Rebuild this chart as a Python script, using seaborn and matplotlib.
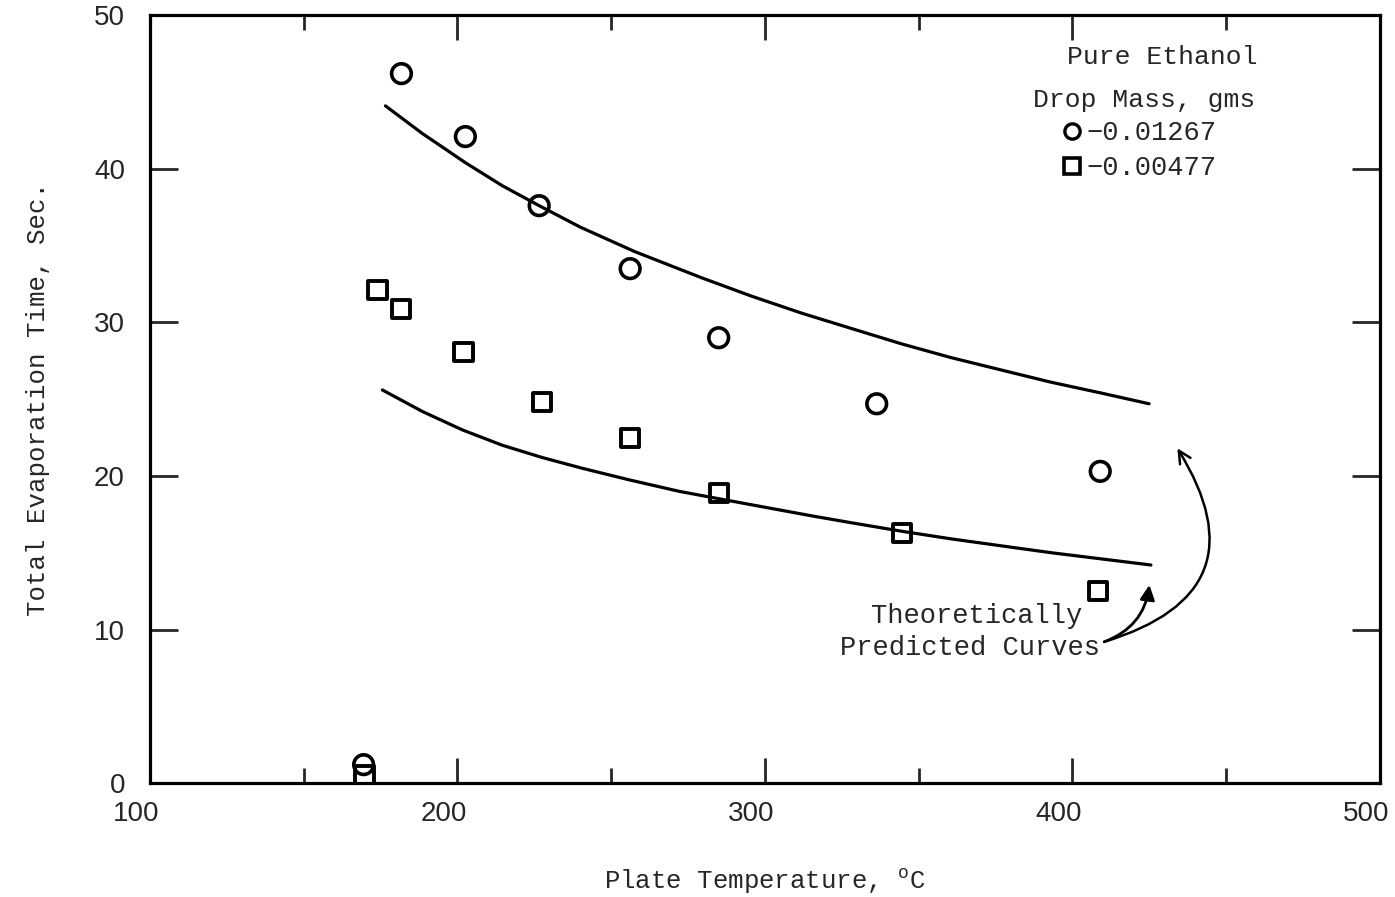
import matplotlib
matplotlib.use("Agg")
import matplotlib.pyplot as plt
import matplotlib.transforms as mtransforms
from matplotlib.lines import Line2D
from matplotlib.ticker import MultipleLocator
import seaborn as sns
import pandas as pd

# Measured points, drop mass 0.01267 g (circles)
temp_big = [169.5, 181.8, 202.6, 226.6, 256.2, 285.0, 336.4, 409.1]
time_big = [1.2, 46.2, 42.1, 37.6, 33.5, 29.0, 24.7, 20.3]

# Measured points, drop mass 0.00477 g (squares)
temp_small = [169.8, 174.0, 181.8, 202.0, 227.6, 256.2, 285.0, 344.5, 408.4]
time_small = [0.5, 32.1, 30.9, 28.1, 24.8, 22.5, 18.9, 16.3, 12.5]

# Theoretically predicted curves
curve_big_x = [176.6, 188.6, 202.6, 214.6, 226.6, 240.0, 257.8, 279.5, 295.8,
               312.0, 328.2, 344.5, 360.7, 376.9, 393.2, 409.4, 425.0]
curve_big_y = [44.1, 42.3, 40.4, 38.9, 37.6, 36.2, 34.6, 32.9, 31.7,
               30.6, 29.6, 28.6, 27.7, 26.9, 26.1, 25.4, 24.7]
curve_small_x = [175.6, 188.6, 201.6, 214.6, 227.6, 240.6, 255.8, 272.1, 282.8,
                 299.0, 315.3, 328.2, 344.5, 360.7, 376.9, 393.2, 409.4, 425.6]
curve_small_y = [25.6, 24.2, 23.0, 22.0, 21.2, 20.5, 19.75, 19.0, 18.6,
                 18.0, 17.4, 16.95, 16.4, 15.9, 15.45, 15.0, 14.6, 14.2]

mass_labels = ["\u22120.01267", "\u22120.00477"]

sns.set_style("ticks")
plt.rcParams["font.family"] = ["Liberation Mono", "DejaVu Sans"]
plt.rcParams["mathtext.fontset"] = "custom"
plt.rcParams["mathtext.rm"] = "Liberation Mono"

fig = plt.figure(figsize=(13.95, 8.97), dpi=100)
ax = fig.add_axes([0.1075, 0.127, 0.8815, 0.856])

big = pd.DataFrame({"temp": temp_big, "time": time_big})
small = pd.DataFrame({"temp": temp_small, "time": time_small})
cbig = pd.DataFrame({"temp": curve_big_x, "time": curve_big_y})
csmall = pd.DataFrame({"temp": curve_small_x, "time": curve_small_y})

sns.lineplot(data=cbig, x="temp", y="time", color="black", lw=2.3, ax=ax)
sns.lineplot(data=csmall, x="temp", y="time", color="black", lw=2.3, ax=ax)
sns.scatterplot(data=big, x="temp", y="time", marker="o", s=200,
                fc="none", ec="black", linewidth=2.6, ax=ax, zorder=3)
sns.scatterplot(data=small, x="temp", y="time", marker="s", s=170,
                fc="none", ec="black", linewidth=2.8, ax=ax, zorder=3)

ax.set_xlim(100, 500)
ax.set_ylim(0, 50)
ax.xaxis.set_major_locator(MultipleLocator(100))
ax.xaxis.set_minor_locator(MultipleLocator(50))
ax.yaxis.set_major_locator(MultipleLocator(10))
ax.tick_params(axis="x", which="major", direction="in", length=18, width=2,
               top=True, bottom=True, pad=13)
ax.tick_params(axis="x", which="minor", direction="in", length=11, width=2,
               top=True, bottom=True)
ax.tick_params(axis="y", which="major", direction="in", length=20, width=2,
               left=True, right=True, pad=18)
ax.tick_params(axis="y", which="minor", left=False, right=False)
shift = mtransforms.ScaledTranslation(-14 / 100, 0, fig.dpi_scale_trans)
for lab in ax.get_xticklabels():
    lab.set_transform(lab.get_transform() + shift)
for lab in ax.get_xticklabels() + ax.get_yticklabels():
    lab.set_fontfamily("Liberation Sans")
    lab.set_fontsize(20)
for sp in ax.spines.values():
    sp.set_linewidth(2.3)
    sp.set_color("black")

ax.set_xlabel(r"Plate Temperature, $^{\mathrm{o}}$C", fontsize=18.5, labelpad=28)
ax.set_ylabel("Total Evaporation Time, Sec.", fontsize=18.5, labelpad=32)

# legend block
ax.text(0.7455, 0.945, "Pure Ethanol", transform=ax.transAxes,
        fontsize=19, va="center", ha="left")
ax.text(0.718, 0.889, "Drop Mass, gms", transform=ax.transAxes,
        fontsize=19, va="center", ha="left")
handles = [
    Line2D([], [], ls="none", marker="o", ms=11, mfc="none", mec="black", mew=2.4),
    Line2D([], [], ls="none", marker="s", ms=11, mfc="none", mec="black", mew=2.6),
]
ax.legend(handles, mass_labels, loc="upper left", bbox_to_anchor=(0.741, 0.863),
          frameon=False, fontsize=19.5, handlelength=0.8, handletextpad=0.12,
          labelspacing=0.32, borderpad=0, borderaxespad=0)

# annotation with curved arrows
ax.text(368.8, 10.9, "Theoretically", fontsize=19.5, ha="center", va="center")
ax.text(366.6, 8.8, "Predicted Curves", fontsize=19.5, ha="center", va="center")
ax.annotate("", xy=(425.1, 12.9), xytext=(410.4, 9.2),
            arrowprops=dict(arrowstyle="-|>", color="black", lw=2,
                            mutation_scale=22, connectionstyle="arc3,rad=0.3",
                            shrinkA=0, shrinkB=0))
ax.annotate("", xy=(434.2, 21.8), xytext=(410.4, 9.2),
            arrowprops=dict(arrowstyle="->", color="black", lw=1.8,
                            mutation_scale=22, connectionstyle="arc3,rad=0.65",
                            shrinkA=0, shrinkB=0))

fig.savefig("out.png", dpi=100, facecolor="white")
